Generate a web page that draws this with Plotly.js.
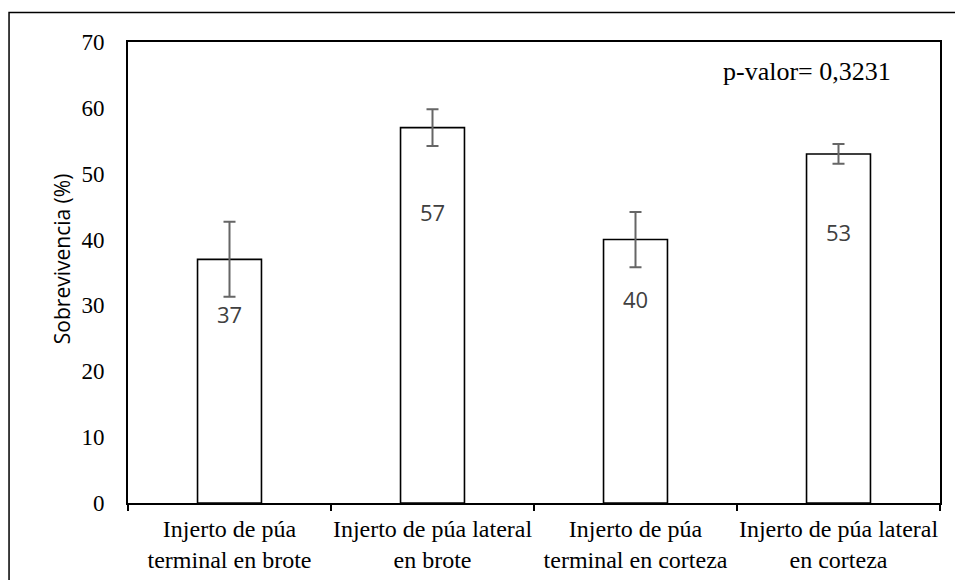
<!DOCTYPE html>
<html>
<head>
<meta charset="utf-8">
<script src="https://cdn.plot.ly/plotly-3.0.1.min.js"></script>
<style>html,body{margin:0;padding:0;background:#fff;}#chart{width:955px;height:580px;}</style>
</head>
<body>
<div id="chart"></div>
<script>
var categories = ["Injerto de púa terminal en brote", "Injerto de púa lateral en brote", "Injerto de púa terminal en corteza", "Injerto de púa lateral en corteza"];
var tickLabels = ["Injerto de púa<br>terminal en brote", "Injerto de púa lateral<br>en brote", "Injerto de púa<br>terminal en corteza", "Injerto de púa lateral<br>en corteza"];
var survival = [37, 57, 40, 53];
var errors = [5.7, 2.8, 4.2, 1.5];
var pText = "p-valor= 0,3231";
var yTitle = "Sobrevivencia (%)";

var serif = "Liberation Serif, Times New Roman, serif";
var sans = "Open Sans, Lato, sans-serif";

var trace = {
  type: "bar",
  x: categories,
  y: survival,
  marker: {color: "#ffffff", line: {color: "#000000", width: 1.6}},
  error_y: {type: "data", array: errors, visible: true, color: "#666666", thickness: 2, width: 6},
  hoverinfo: "none"
};

var annotations = survival.map(function (v, i) {
  return {x: categories[i], y: v * 0.775, xref: "x", yref: "y", text: String(v), showarrow: false,
    font: {family: sans, size: 22, color: "#404040"}, yanchor: "middle"};
});
annotations.push({x: 0.836, y: 0.935, xref: "paper", yref: "paper", text: pText, showarrow: false,
  font: {family: serif, size: 26, color: "#000000"}, xanchor: "center", yanchor: "middle"});
annotations.push({x: -0.0813, y: 0.531, xref: "paper", yref: "paper", text: yTitle, showarrow: false,
  textangle: -90, font: {family: sans, size: 21, color: "#000000"}, xanchor: "center", yanchor: "middle"});

var layout = {
  width: 955, height: 580,
  margin: {l: 128, r: 15, t: 42, b: 77},
  paper_bgcolor: "#ffffff", plot_bgcolor: "#ffffff",
  showlegend: false,
  bargap: 0.685,
  xaxis: {
    type: "category",
    tickmode: "array", tickvals: categories, ticktext: tickLabels,
    tickangle: 0,
    tickson: "boundaries", ticks: "outside", ticklen: 6, tickwidth: 1.5, tickcolor: "#000000",
    showline: true, linecolor: "#000000", linewidth: 1.8, mirror: true,
    showgrid: false, zeroline: false,
    ticklabelstandoff: 3,
    tickfont: {family: serif, size: 24, color: "#000000"}
  },
  yaxis: {
    range: [0, 70], dtick: 10, tick0: 0,
    ticks: "", showline: true, linecolor: "#000000", linewidth: 1.8, mirror: true,
    showgrid: false, zeroline: false,
    ticklabelstandoff: 17,
    tickfont: {family: serif, size: 23, color: "#000000"}
  },
  annotations: annotations,
  shapes: [{type: "rect", xref: "paper", yref: "paper", x0: -0.1465, x1: 1.03, y0: -0.2, y1: 1.064,
    line: {color: "#000000", width: 1.5}, fillcolor: "rgba(0,0,0,0)", layer: "below"}]
};

Plotly.newPlot("chart", [trace], layout, {displayModeBar: false, staticPlot: true});
</script>
</body>
</html>
